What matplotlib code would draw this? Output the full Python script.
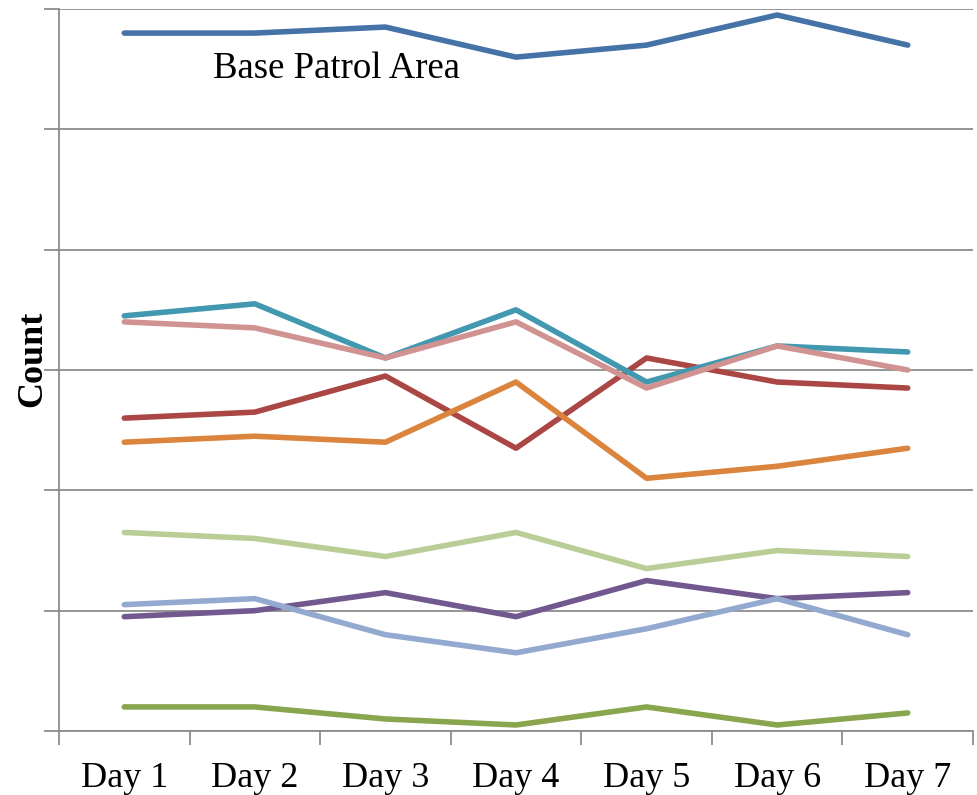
import matplotlib
matplotlib.use("Agg")
import matplotlib.pyplot as plt

days = ["Day 1", "Day 2", "Day 3", "Day 4", "Day 5", "Day 6", "Day 7"]

base_patrol = [58.0, 58.0, 58.5, 56.0, 57.0, 59.5, 57.0]
series_red = [26.0, 26.5, 29.5, 23.5, 31.0, 29.0, 28.5]
series_green = [2.0, 2.0, 1.0, 0.5, 2.0, 0.5, 1.5]
series_purple = [9.5, 10.0, 11.5, 9.5, 12.5, 11.0, 11.5]
series_teal = [34.5, 35.5, 31.0, 35.0, 29.0, 32.0, 31.5]
series_orange = [24.0, 24.5, 24.0, 29.0, 21.0, 22.0, 23.5]
series_lightblue = [10.5, 11.0, 8.0, 6.5, 8.5, 11.0, 8.0]
series_pink = [34.0, 33.5, 31.0, 34.0, 28.5, 32.0, 30.0]
series_lightgreen = [16.5, 16.0, 14.5, 16.5, 13.5, 15.0, 14.5]

series = [
    (base_patrol, "#4572A7"),
    (series_red, "#AA4643"),
    (series_green, "#89A54E"),
    (series_purple, "#71588F"),
    (series_teal, "#4198AF"),
    (series_orange, "#DB843D"),
    (series_lightblue, "#93A9CF"),
    (series_pink, "#D19392"),
    (series_lightgreen, "#B9CD96"),
]

plt.rcParams["font.family"] = ["Liberation Serif", "DejaVu Serif"]

fig = plt.figure(figsize=(9.77, 7.95), dpi=100)
ax = fig.add_axes([59 / 977, 1 - 731 / 795, (973 - 59) / 977, (731 - 9) / 795])

x = list(range(len(days)))
for vals, color in series:
    ax.plot(x, vals, color=color, lw=4.0, solid_capstyle="round",
            solid_joinstyle="round", zorder=3)

ax.set_xlim(-0.5, len(days) - 0.5)
ax.set_ylim(0, 60)
ax.set_yticks(range(0, 61, 10))
ax.set_yticklabels([])
ax.yaxis.grid(True, color="#8c8c8c", lw=1.3)
ax.set_axisbelow(True)

ax.set_xticks(x)
ax.set_xticklabels(days, fontsize=26)
ax.set_xticks([i - 0.5 for i in range(len(days) + 1)], minor=True)
ax.tick_params(axis="x", which="major", length=0, pad=22)
ax.tick_params(axis="x", which="minor", length=10, width=1.3, color="#8c8c8c")
ax.tick_params(axis="y", length=11, width=1.3, color="#8c8c8c")

for side in ["top", "right"]:
    ax.spines[side].set_visible(False)
for side in ["left", "bottom"]:
    ax.spines[side].set_color("#8c8c8c")
    ax.spines[side].set_linewidth(1.3)

fig.text(33 / 977, 1 - 359 / 795, "Count", fontsize=26, fontweight="bold",
         rotation=90, ha="center", va="center")
ax.text(1.625, 55.0, "Base Patrol Area", fontsize=26.5, ha="center", va="center")

fig.savefig("out.png", dpi=100)
